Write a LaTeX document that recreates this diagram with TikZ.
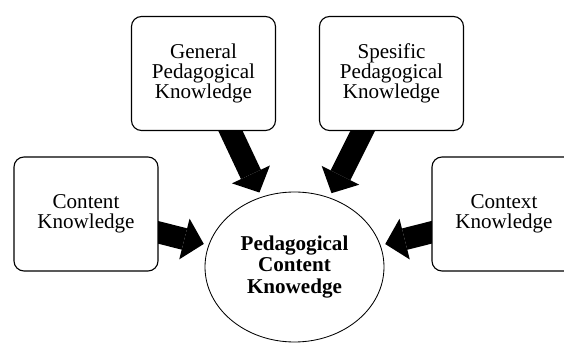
\documentclass[tikz,border=0pt]{standalone}
\usepackage{fontspec}
\setmainfont{Liberation Serif}
\usetikzlibrary{arrows.meta,shapes.geometric,backgrounds}

\begin{document}
\begin{tikzpicture}[
    box/.style={draw, line width=0.8pt, fill=white, rounded corners=0.25cm,
      minimum width=3.6cm, minimum height=2.85cm, align=center,
      font=\fontsize{15}{14.3}\selectfont},
    bigarrow/.style={line width=0.55cm,
      -{Triangle[length=0.5cm,width=1.05cm,line width=0pt]},
      shorten <=-0.3cm, shorten >=0.12cm}]

  \clip (0,0) rectangle (14.1,-8.575);

  \node (gpk) at (5.0875,-1.8375) [box] {General\\Pedagogical\\Knowledge};
  \node (spk) at (9.7875,-1.8375) [box] {Spesific\\Pedagogical\\Knowledge};
  \node (ck) at (2.15,-5.35) [box] {Content\\Knowledge};
  \node (cxk) at (12.6,-5.35) [box] {Context\\Knowledge};

  \node (pck) at (7.3625,-6.675) [shape=ellipse, draw, line width=0.6pt,
    minimum width=4.475cm, minimum height=3.75cm, inner sep=0pt, align=center,
    font=\bfseries\fontsize{15}{15.5}\selectfont] {Pedagogical\\Content\\Knowedge};

  \begin{scope}[on background layer]
    \draw [bigarrow] (gpk) -- (pck);
    \draw [bigarrow] (spk) -- (pck);
    \draw [bigarrow] (ck) -- (pck);
    \draw [bigarrow] (cxk) -- (pck);
  \end{scope}

\end{tikzpicture}
\end{document}
